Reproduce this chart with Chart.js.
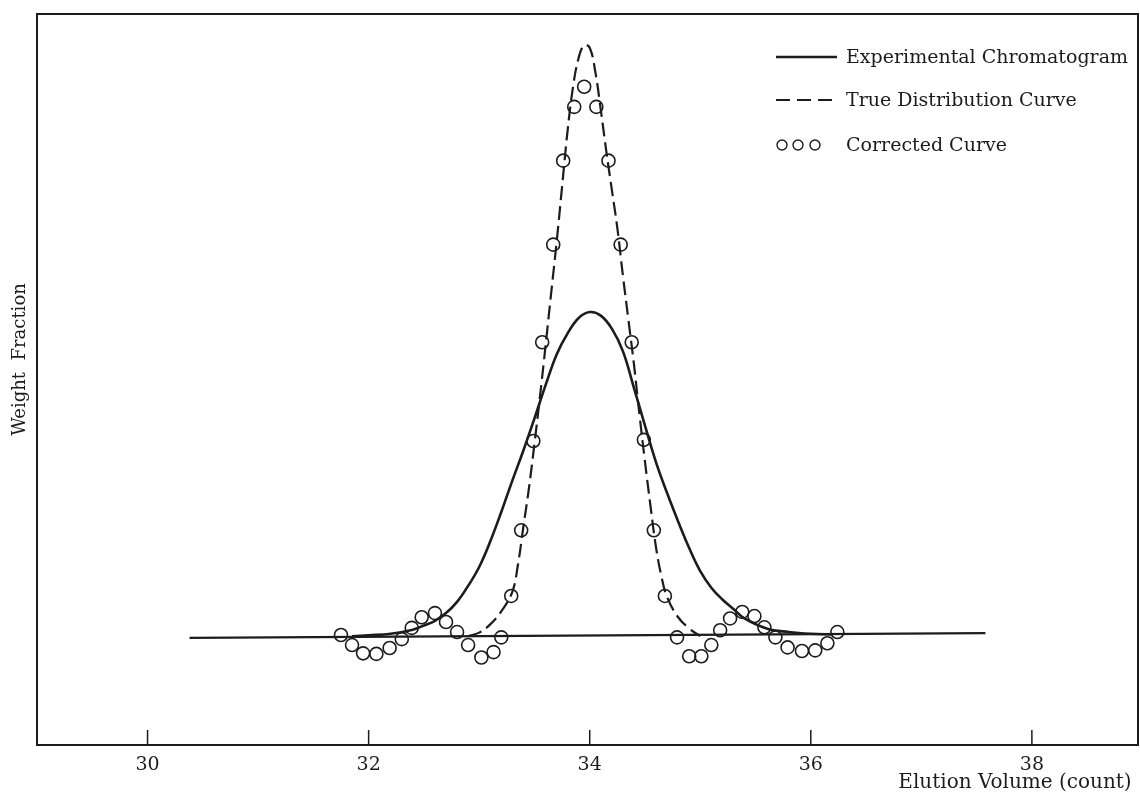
<!DOCTYPE html>
<html lang="en">
<head>
<meta charset="UTF-8">
<title>Chromatogram Correction</title>
<script src="https://cdn.jsdelivr.net/npm/chart.js"></script>
<style>
  body { margin: 0; background: #fff; }
  .chart-box { width: 1140px; height: 797px; }
</style>
</head>
<body>
<div class="chart-box"><canvas id="chart"></canvas></div>
<script>
// elution volume (count) vs weight fraction (arbitrary units, baseline = 0)
const xTicks = [30, 32, 34, 36, 38];

const baseX = [30.38, 37.58];
const baseY = [-0.3, 0.5];

// experimental chromatogram (solid)
const expX = [31.85, 32.0, 32.2, 32.4, 32.5, 32.6, 32.7, 32.8, 32.9, 33.0, 33.1, 33.2, 33.3, 33.4, 33.5, 33.6, 33.7, 33.8, 33.9,
              34.0, 34.1, 34.2, 34.3, 34.4, 34.5, 34.6, 34.7, 34.8, 34.9, 35.0, 35.1, 35.2, 35.3, 35.4, 35.6, 35.8, 36.0, 36.2];
const expY = [0, 0.15, 0.4, 1.1, 1.8, 2.6, 3.9, 5.8, 8.5, 11.7, 16.0, 21.0, 26.3, 31.4, 36.8, 42.4, 47.6, 51.2, 53.8,
              54.8, 54.2, 52.0, 48.2, 42.0, 35.6, 29.4, 24.2, 19.4, 14.9, 11.0, 8.2, 6.2, 4.6, 3.0, 1.3, 0.7, 0.4, 0.3];

// true distribution curve (dashed)
const trueX = [32.9, 33.0, 33.1, 33.2, 33.3, 33.35, 33.4, 33.45, 33.5, 33.55, 33.6, 33.65, 33.7, 33.75, 33.8, 33.85, 33.9, 33.95,
               34.0, 34.05, 34.1, 34.15, 34.2, 34.25, 34.3, 34.35, 34.4, 34.45, 34.5, 34.55, 34.6, 34.65, 34.7, 34.8, 34.9, 35.0];
const trueY = [0, 0.6, 2.0, 4.2, 7.5, 12.0, 18.5, 25.0, 32.5, 40.5, 49.0, 57.8, 66.5, 76.0, 85.5, 93.0, 97.8, 99.9,
               99.5, 95.5, 89.0, 82.0, 75.5, 69.0, 61.0, 53.5, 46.0, 37.5, 29.5, 22.0, 15.0, 10.0, 6.6, 3.2, 1.3, 0];

// corrected curve (circles)
const corrX = [31.75, 31.85, 31.95, 32.07, 32.19, 32.30, 32.39, 32.48, 32.60, 32.70, 32.80, 32.90, 33.02, 33.13, 33.20,
               33.29, 33.38, 33.49, 33.57, 33.67, 33.76, 33.86, 33.95, 34.06, 34.17, 34.28, 34.38, 34.49, 34.58, 34.68,
               34.79, 34.90, 35.01, 35.10, 35.18, 35.27, 35.38, 35.49, 35.58, 35.68, 35.79, 35.92, 36.04, 36.15, 36.24];
const corrY = [0.2, -1.5, -2.9, -3.0, -2.0, -0.5, 1.4, 3.2, 3.9, 2.4, 0.7, -1.5, -3.6, -2.7, -0.2,
               6.8, 17.9, 33.0, 49.7, 66.2, 80.4, 89.5, 92.9, 89.5, 80.4, 66.2, 49.7, 33.2, 17.9, 6.8,
               -0.2, -3.4, -3.4, -1.5, 1.0, 3.0, 4.1, 3.4, 1.5, -0.2, -1.9, -2.5, -2.4, -1.2, 0.7];

const legendLabels = ['Experimental Chromatogram', 'True Distribution Curve', 'Corrected Curve'];

const INK = '#1c1c1c';
const SERIF = "'DejaVu Serif', 'Liberation Serif', serif";
const pts = (xs, ys) => xs.map((x, i) => ({ x: x, y: ys[i] }));

// top/right frame, inward tick marks and the hand-drawn legend
const paperPlugin = {
    id: 'paper',
    afterDraw(chart) {
        const ctx = chart.ctx;
        const area = chart.chartArea;
        const xs = chart.scales.x;
        ctx.save();
        ctx.strokeStyle = INK;
        ctx.fillStyle = INK;

        ctx.lineWidth = 2;
        ctx.beginPath();
        ctx.moveTo(area.left, area.top);
        ctx.lineTo(area.right, area.top);
        ctx.lineTo(area.right, area.bottom);
        ctx.stroke();

        ctx.lineWidth = 1.5;
        xTicks.forEach(v => {
            const px = xs.getPixelForValue(v);
            ctx.beginPath();
            ctx.moveTo(px, area.bottom - 15);
            ctx.lineTo(px, area.bottom);
            ctx.stroke();
        });

        // legend
        const lx = 776, lw = 61, tx = 846;
        const rows = [57, 100, 145];
        ctx.font = '19px ' + SERIF;
        ctx.textBaseline = 'middle';
        ctx.textAlign = 'left';

        ctx.lineWidth = 2.5;
        ctx.beginPath();
        ctx.moveTo(lx, rows[0]);
        ctx.lineTo(lx + lw, rows[0]);
        ctx.stroke();

        ctx.lineWidth = 2;
        ctx.setLineDash([14, 7]);
        ctx.beginPath();
        ctx.moveTo(lx, rows[1]);
        ctx.lineTo(lx + lw, rows[1]);
        ctx.stroke();
        ctx.setLineDash([]);

        ctx.lineWidth = 1.4;
        [782, 798, 815].forEach(cx => {
            ctx.beginPath();
            ctx.arc(cx, rows[2], 5, 0, Math.PI * 2);
            ctx.stroke();
        });

        legendLabels.forEach((t, i) => ctx.fillText(t, tx, rows[i] + 1));
        ctx.restore();
    }
};

new Chart(document.getElementById('chart'), {
    type: 'line',
    data: {
        datasets: [
            {
                label: 'Baseline',
                data: pts(baseX, baseY),
                borderColor: INK,
                borderWidth: 2.2,
                pointRadius: 0
            },
            {
                label: legendLabels[0],
                data: pts(expX, expY),
                borderColor: INK,
                borderWidth: 2.6,
                pointRadius: 0,
                tension: 0.4
            },
            {
                label: legendLabels[1],
                data: pts(trueX, trueY),
                borderColor: INK,
                borderWidth: 2.2,
                borderDash: [14, 6],
                pointRadius: 0,
                tension: 0.4
            },
            {
                label: legendLabels[2],
                data: pts(corrX, corrY),
                showLine: false,
                pointStyle: 'circle',
                pointRadius: 6.5,
                pointBorderWidth: 1.6,
                pointBorderColor: INK,
                pointBackgroundColor: 'rgba(255,255,255,0)'
            }
        ]
    },
    options: {
        responsive: true,
        maintainAspectRatio: false,
        animation: false,
        layout: { autoPadding: false, padding: { top: 14, right: 2 } },
        plugins: {
            legend: { display: false },
            tooltip: { enabled: false }
        },
        scales: {
            x: {
                type: 'linear',
                min: 29,
                max: 38.96,
                afterBuildTicks: s => { s.ticks = xTicks.map(v => ({ value: v })); },
                afterFit: s => { s.height = 52; },
                grid: { display: false, drawTicks: false },
                border: { display: true, color: INK, width: 2 },
                ticks: {
                    color: INK,
                    padding: 9,
                    maxRotation: 0,
                    font: { family: SERIF, size: 19 }
                },
                title: {
                    display: true,
                    text: 'Elution Volume (count) ',
                    align: 'end',
                    color: INK,
                    padding: { top: 0, bottom: 2 },
                    font: { family: SERIF, size: 20 }
                }
            },
            y: {
                type: 'linear',
                min: -18.4,
                max: 105.2,
                afterFit: s => { s.width = 37; },
                grid: { display: false, drawTicks: false },
                border: { display: true, color: INK, width: 2 },
                ticks: { display: false },
                title: {
                    display: true,
                    text: '       Weight  Fraction',
                    color: INK,
                    padding: { top: 10, bottom: 0 },
                    font: { family: SERIF, size: 18 }
                }
            }
        }
    },
    plugins: [paperPlugin]
});
</script>
</body>
</html>
